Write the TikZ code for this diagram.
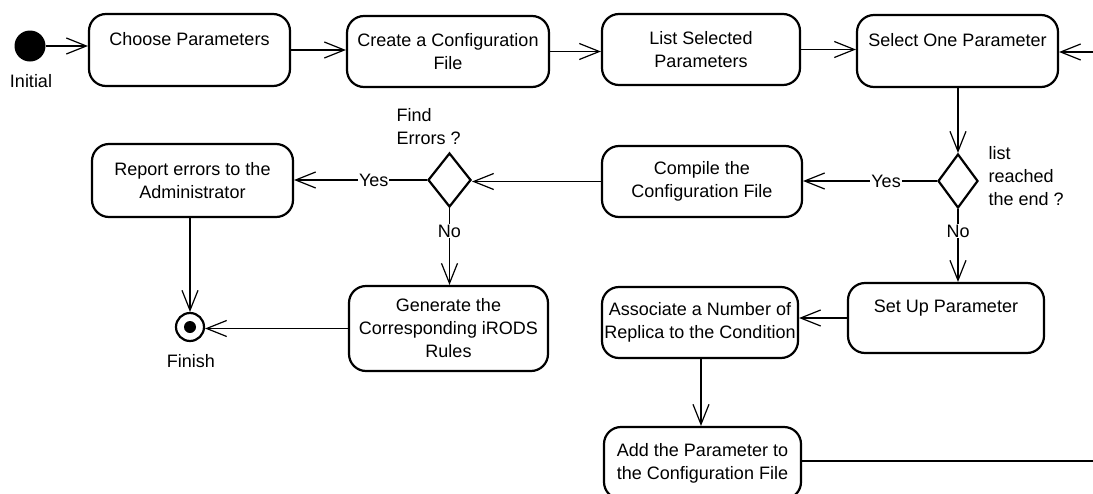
\documentclass[tikz,border=0pt]{standalone}
\usepackage{fontspec}
\setmainfont{Liberation Sans}
\usetikzlibrary{arrows.meta,shapes.geometric}
\begin{document}
\begin{tikzpicture}[x=1pt,y=-1pt,
  txt/.style={font=\fontsize{18}{23}\selectfont},
  action/.style={txt,draw,line width=2.2pt,rounded corners=17pt,align=center,inner sep=0pt},
  decision/.style={draw,diamond,line width=2.2pt,inner sep=0pt},
  flow/.style={line width=1.2pt,-{Straight Barb[length=20pt,width=16pt,line width=1.2pt]}},
  guard/.style={txt,fill=white,inner sep=1pt}]
\clip (0,0) rectangle (1093,493);
\fill[white] (0,0) rectangle (1093,493);

% initial and final states
\node[circle,fill=black,minimum size=31pt,inner sep=0pt] (init) at (30,46) {};
\node[txt] (initlbl) at (31,81) {Initial};
\node[circle,draw,line width=2.2pt,minimum size=28pt,inner sep=0pt] (finish) at (190,327) {};
\node[circle,fill=black,minimum size=12pt,inner sep=0pt] (finishdot) at (finish) {};
\node[txt] (finishlbl) at (191,361) {Finish};

% actions
\node[action,minimum width=201pt,minimum height=72pt] (choose) at (189.5,50) {Choose Parameters\\\mbox{}};
\node[action,minimum width=202pt,minimum height=71pt] (create) at (448,51.5) {Create a Configuration\\File};
\node[action,minimum width=198pt,minimum height=71pt] (list) at (701,49.5) {List Selected\\Parameters};
\node[action,minimum width=201pt,minimum height=72pt] (select) at (957.5,51) {Select One Parameter\\\mbox{}};
\node[action,minimum width=200pt,minimum height=71pt] (compile) at (702,181.5) {Compile the\\Configuration File};
\node[action,minimum width=201pt,minimum height=73pt] (report) at (192.5,180.5) {Report errors to the\\Administrator};
\node[action,minimum width=199pt,minimum height=85pt] (generate) at (448.5,328.5) {Generate the\\Corresponding iRODS\\Rules};
\node[action,minimum width=196pt,minimum height=70pt] (setup) at (946,318) {Set Up Parameter\\\mbox{}};
\node[action,minimum width=196pt,minimum height=71pt] (assoc) at (700,322.5) {Associate a Number of\\Replica to the Condition};
\node[action,minimum width=197pt,minimum height=72pt] (add) at (702.5,463) {Add the Parameter to\\the Configuration File};

% decisions
\node[decision,minimum width=40pt,minimum height=54pt] (endq) at (958,181) {};
\node[txt,anchor=west,align=left] (endqlbl) at (985,176) {list\\reached\\the end ?};
\node[decision,minimum width=43pt,minimum height=54pt] (errq) at (449.5,180) {};
\node[txt,anchor=west,align=left] (errqlbl) at (393,127) {Find\\Errors ?};

% loop ends at the right border
\coordinate (loopin) at (1093,52);
\coordinate (loopout) at (1093,461);

% transitions
\draw[flow] (init) -- (init -| choose.west);
\draw[flow] (choose.east) -- (choose.east -| create.west);
\draw[flow] (create.east) -- (create.east -| list.west);
\draw[flow] (list.east) -- (list.east -| select.west);
\draw[flow] (loopin) -- (loopin -| select.east);
\draw[flow] (endq.north |- select.south) -- (endq.north);
\draw[flow] (endq.west) -- node[guard,pos=0.38] (yes1) {Yes} (endq.west -| compile.east);
\draw[flow] (endq.south) -- node[guard,pos=0.3] (no1) {No} (endq.south |- setup.north);
\draw[flow] (compile.west) -- (compile.west -| errq.east);
\draw[flow] (errq.west) -- node[guard,pos=0.4] (yes2) {Yes} (errq.west -| report.east);
\draw[flow] (errq.south) -- node[guard,pos=0.3] (no2) {No} (errq.south |- generate.north);
\draw[flow] (finish.north |- report.south) -- (finish.north);
\draw[flow] (generate.west) -- (generate.west -| finish.east);
\draw[flow] (setup.west) -- (setup.west -| assoc.east);
\draw[flow] ([xshift=1pt]assoc.south) -- ([xshift=1pt]assoc.south |- add.north);
\draw[line width=1.2pt] (add.east |- loopout) -- (loopout);
\end{tikzpicture}
\end{document}
